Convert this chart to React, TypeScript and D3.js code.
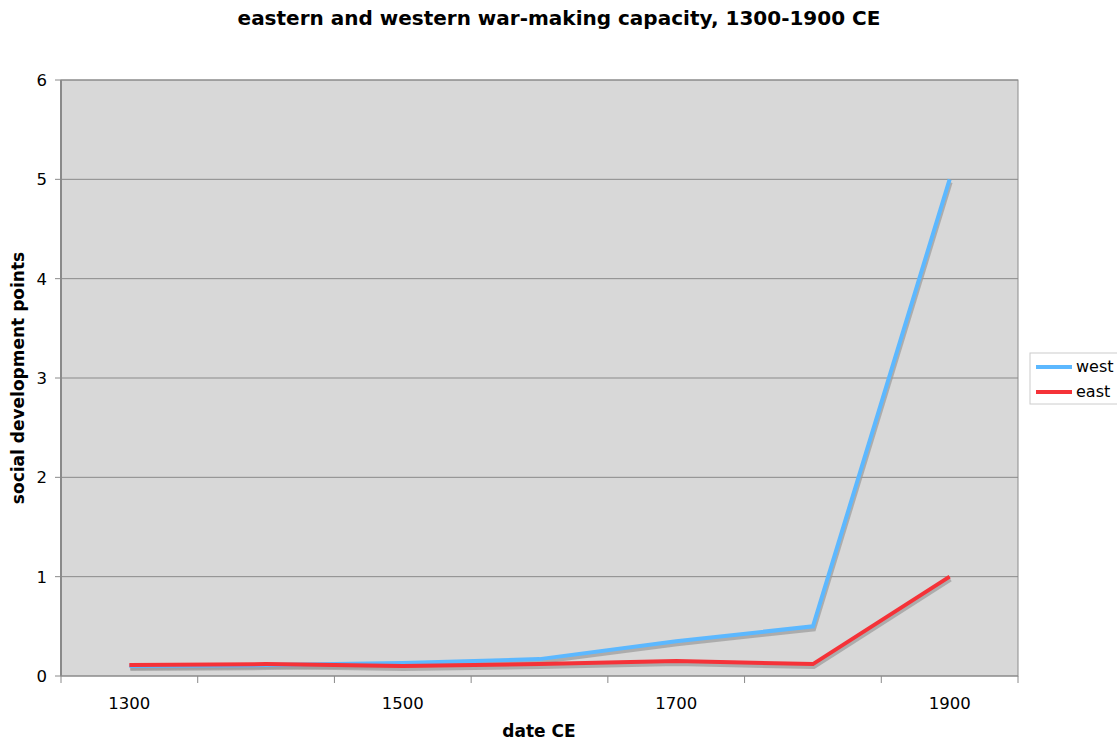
import React from "react";
import * as d3 from "d3";

const categories = ["1300", "1400", "1500", "1600", "1700", "1800", "1900"];
const tickLabels = ["1300", "1500", "1700", "1900"];
const westValues = [0.1, 0.11, 0.13, 0.17, 0.35, 0.5, 5.0];
const eastValues = [0.11, 0.12, 0.1, 0.12, 0.15, 0.12, 1.0];
const yTicks = [0, 1, 2, 3, 4, 5, 6];
const seriesList = [
  { name: "west", values: westValues, color: "#5cb8ff" },
  { name: "east", values: eastValues, color: "#f53238" },
];

const W = 1117;
const H = 740;
const left = 61;
const right = 1018;
const top = 80;
const bottom = 676;
const font = "'DejaVu Sans', Verdana, sans-serif";

export default function App() {
  const x = d3.scaleBand<string>().domain(categories).range([left, right]).padding(0);
  const y = d3.scaleLinear().domain([0, 6]).range([bottom, top]);
  const cx = (c: string) => (x(c) ?? 0) + x.bandwidth() / 2;
  const line = d3
    .line<number>()
    .x((_, i) => cx(categories[i]))
    .y((d) => y(d));
  const boundaries = d3.range(categories.length + 1).map((i) => left + i * x.bandwidth());

  return (
    <svg
      width={W}
      height={H}
      style={{ position: "absolute", left: 0, top: 0, background: "#fff" }}
      fontFamily={font}
    >
      <text x={559} y={25} textAnchor="middle" fontWeight="bold" fontSize={20} fill="#000">
        eastern and western war-making capacity, 1300-1900 CE
      </text>
      <rect x={left} y={top} width={right - left} height={bottom - top} fill="#d8d8d8" stroke="#8c8c8c" strokeWidth={1} />
      {yTicks.map((t) => (
        <g key={t}>
          {t > 0 && (
            <line x1={left} x2={right} y1={y(t)} y2={y(t)} stroke="#8a8a8a" strokeWidth={1} />
          )}
          <line x1={left - 6} x2={left} y1={y(t)} y2={y(t)} stroke="#8a8a8a" strokeWidth={1} />
          <text x={47} y={y(t) + 6} textAnchor="end" fontSize={16.5} fill="#000">
            {t}
          </text>
        </g>
      ))}
      <line x1={left} x2={left} y1={top} y2={bottom} stroke="#8a8a8a" strokeWidth={2} />
      <line x1={left} x2={right} y1={bottom} y2={bottom} stroke="#8a8a8a" strokeWidth={1} />
      {boundaries.map((b, i) => (
        <line key={i} x1={b} x2={b} y1={bottom} y2={bottom + 7} stroke="#8a8a8a" strokeWidth={1} />
      ))}
      {tickLabels.map((c) => (
        <text key={c} x={cx(c)} y={709} textAnchor="middle" fontSize={16.5} fill="#000">
          {c}
        </text>
      ))}
      <text x={539} y={737} textAnchor="middle" fontWeight="bold" fontSize={17} fill="#000">
        date CE
      </text>
      <text
        transform={`translate(24, ${(top + bottom) / 2}) rotate(-90)`}
        textAnchor="middle"
        fontWeight="bold"
        fontSize={17}
        fill="#000"
      >
        social development points
      </text>
      {seriesList.map((s) => (
        <path
          key={s.name + "-shadow"}
          d={line(s.values) ?? ""}
          fill="none"
          stroke="#9a9a9a"
          strokeOpacity={0.7}
          strokeWidth={4}
          transform="translate(1,3)"
        />
      ))}
      {seriesList.map((s) => (
        <path key={s.name} d={line(s.values) ?? ""} fill="none" stroke={s.color} strokeWidth={4} strokeLinejoin="miter" />
      ))}
      <g>
        <rect x={1030} y={353} width={90} height={51} fill="#fff" stroke="#cccccc" strokeWidth={1} />
        {seriesList.map((s, i) => (
          <g key={s.name}>
            <line x1={1036} x2={1072} y1={367 + i * 25} y2={367 + i * 25} stroke={s.color} strokeWidth={4} />
            <text x={1076} y={372 + i * 25} fontSize={16} fill="#000">
              {s.name}
            </text>
          </g>
        ))}
      </g>
    </svg>
  );
}
